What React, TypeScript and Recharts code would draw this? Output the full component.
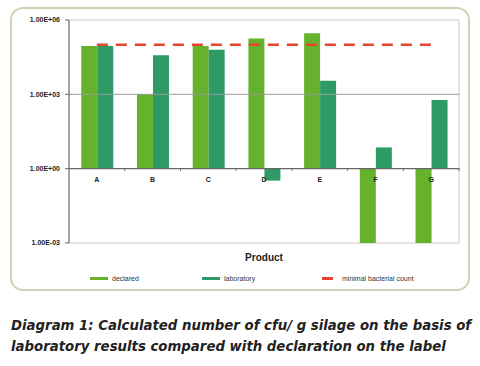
import React from 'react';
import { ComposedChart, Bar, Line, XAxis, YAxis, ReferenceLine, ReferenceArea } from 'recharts';

// cfu per g silage
const products = ['A', 'B', 'C', 'D', 'E', 'F', 'G'];
const declared = [89000, 1000, 89000, 178000, 295000, 0.001, 0.001];
const laboratory = [89000, 38000, 63000, 0.33, 3500, 7.2, 590];
const minimalCount = [100000, 100000, 100000, 100000, 100000, 100000, 100000];
const yTicks = [0.001, 1, 1000, 1000000];

const data = products.map((name, i) => ({
  name,
  declared: declared[i],
  laboratory: laboratory[i],
  minimal: minimalCount[i],
}));

const DECLARED = '#67b22c';
const LAB = '#2e9b67';
const MINIMAL = '#e5452c';
const FONT = '"Liberation Sans", Arial, sans-serif';

// bars grow from 1 (1.00E+00) up or down
const fromOne = (key: string) => (d: any) => [Math.min(1, d[key]), Math.max(1, d[key])];

const sci = (v: number) =>
  v.toExponential(2).toUpperCase().replace(/E([+-])(\d)$/, 'E$10$2');

const ProductTick = ({ x, y, payload }: any) => (
  <g>
    <text x={x} y={y - 61} textAnchor="middle" fontSize={7} fontWeight="bold" fill="#222" fontFamily={FONT}>
      {payload.value}
    </text>
    <line x1={x + 27.9} x2={x + 27.9} y1={y - 75} y2={y - 72} stroke="#666" />
  </g>
);

const legendItems = [
  { label: 'declared', color: DECLARED, left: 90, w: 18 },
  { label: 'laboratory', color: LAB, left: 202, w: 18 },
  { label: 'minimal bacterial count', color: MINIMAL, left: 322, w: 11 },
];

export default function App() {
  return (
    <div style={{ position: 'absolute', left: 0, top: 0, width: 480, height: 366, background: '#fff' }}>
      <div
        style={{
          position: 'absolute',
          left: 10,
          top: 7,
          width: 456,
          height: 280,
          border: '2px solid #d3d0b8',
          borderRadius: 13,
        }}
      />
      <div style={{ position: 'absolute', left: 0, top: 0 }}>
        <ComposedChart
          width={480}
          height={273}
          data={data}
          margin={{ top: 20, right: 21, left: 0, bottom: 0 }}
          barGap={0}
          barCategoryGap="22%"
        >
          <ReferenceArea y1={0.001} y2={1000000} fill="none" stroke="#c8c8c8" />
          <ReferenceLine y={1000} stroke="#9a9a9a" />
          <XAxis
            dataKey="name"
            height={30}
            axisLine={false}
            tickLine={false}
            tickSize={0}
            tickMargin={0}
            tick={<ProductTick />}
            label={{ value: 'Product', position: 'insideBottom', offset: 12, fontSize: 10, fontWeight: 'bold', fill: '#222', fontFamily: FONT }}
          />
          <YAxis
            scale="log"
            domain={[0.001, 1000000]}
            allowDataOverflow
            ticks={yTicks}
            tickFormatter={sci}
            width={69}
            stroke="#666"
            tickSize={4}
            tickMargin={5}
            tick={{ fontSize: 7, fontWeight: 'bold', fill: '#222', fontFamily: FONT }}
          />
          <Bar dataKey={fromOne('declared')} name="declared" fill={DECLARED} isAnimationActive={false} />
          <Bar dataKey={fromOne('laboratory')} name="laboratory" fill={LAB} isAnimationActive={false} />
          <ReferenceLine y={1} stroke="#666" strokeWidth={1.2} />
          <Line
            dataKey="minimal"
            name="minimal bacterial count"
            stroke={MINIMAL}
            strokeWidth={2.5}
            strokeDasharray="11 8"
            dot={false}
            isAnimationActive={false}
          />
        </ComposedChart>
      </div>
      {legendItems.map((it) => (
        <div key={it.label} style={{ position: 'absolute', left: it.left, top: 274, height: 8, display: 'flex', alignItems: 'center' }}>
          <span style={{ display: 'inline-block', width: it.w, height: 3, background: it.color }} />
          <span style={{ marginLeft: it.w === 11 ? 9 : 4, fontSize: 7, color: '#333', fontFamily: FONT }}>{it.label}</span>
        </div>
      ))}
      <div
        style={{
          position: 'absolute',
          left: 11,
          top: 315,
          fontFamily: '"DejaVu Sans", Verdana, sans-serif',
          fontWeight: 'bold',
          fontStyle: 'italic',
          fontSize: 13.3,
          lineHeight: '21px',
          color: '#222',
          whiteSpace: 'nowrap',
        }}
      >
        Diagram 1: Calculated number of cfu/ g silage on the basis of
        <br />
        laboratory results compared with declaration on the label
      </div>
    </div>
  );
}
